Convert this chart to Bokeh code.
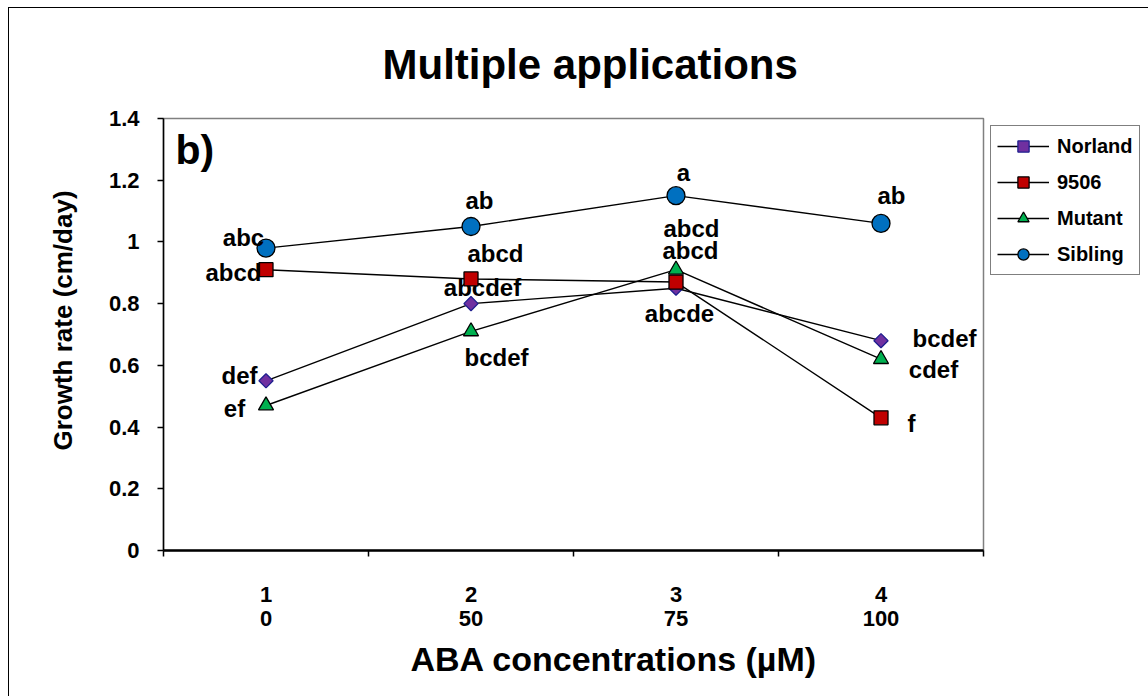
import numpy as np
from bokeh.plotting import figure
from bokeh.models import (Range1d, FixedTicker, LinearAxis, Legend, LegendItem,
                          Label, Title, CustomJSTickFormatter, ColumnDataSource)
from bokeh.core.properties import value
from bokeh.embed import file_html
from bokeh.resources import INLINE

# ---------------- data ----------------
categories = [1, 2, 3, 4]
cat_labels = ["1", "2", "3", "4"]
aba_labels = ["0", "50", "75", "100"]
series_names = ["Norland", "9506", "Mutant", "Sibling"]

norland = [0.55, 0.80, 0.85, 0.68]
s9506 = [0.91, 0.88, 0.87, 0.43]
mutant = [0.47, 0.71, 0.91, 0.62]
sibling = [0.98, 1.05, 1.15, 1.06]

norland_letters = ["def", "abcdef", "abcde", "bcdef"]
s9506_letters = ["abcd", "abcd", "abcd", "f"]
mutant_letters = ["ef", "bcdef", "abcd", "cdef"]
sibling_letters = ["abc", "ab", "a", "ab"]

y_ticks = [0, 0.2, 0.4, 0.6, 0.8, 1.0, 1.2, 1.4]

# ---------------- label placement (screen px) ----------------
norland_dx = [-26.5, 11.5, 3.5, 63.5]
norland_dy = [-5, -16, 25, -2]
s9506_dx = [-32.5, 24.5, 15.5, 30.5]
s9506_dy = [2.5, -25.7, -54, 5.6]
mutant_dx = [-31.5, 25.5, 14.5, 52.5]
mutant_dy = [3, 26, -19.4, 10]
sibling_dx = [-22.5, 8.5, 7.5, 10.5]
sibling_dy = [-11, -26, -23.5, -28]

FONT = "Liberation Sans"

p = figure(frame_width=820, frame_height=432,
           x_range=Range1d(0.5, 4.5), y_range=Range1d(0, 1.4),
           x_axis_type=None, y_axis_type=None,
           output_backend="svg", toolbar_location=None,
           min_border_left=154, min_border_top=110,
           min_border_right=0, min_border_bottom=146,
           background_fill_color="white", border_fill_color="white")
p.xgrid.visible = False
p.ygrid.visible = False
p.outline_line_color = "#808080"
p.outline_line_width = 1.5
p.styles = {"margin-left": "8px", "margin-top": "7px",
            "border-left": "1px solid black", "border-top": "1px solid black"}

# title
p.title = Title(text="Multiple applications", align="left", vertical_align="middle",
                text_font=FONT, text_font_style="bold",
                text_font_size="42px", text_color="black",
                standoff=60, offset=219)

# ---------------- axes ----------------
yaxis = LinearAxis(ticker=FixedTicker(ticks=y_ticks, minor_ticks=[]),
                   formatter=CustomJSTickFormatter(code="return (Math.round(tick*10)/10).toString();"),
                   major_tick_out=6, major_tick_in=0,
                   major_label_standoff=18,
                   major_label_text_font=FONT, major_label_text_font_style="bold",
                   major_label_text_font_size="22px", major_label_text_color="black",
                   axis_line_color="black", axis_line_width=1.5,
                   major_tick_line_color="black", major_tick_line_width=1.5)
p.add_layout(yaxis, "left")

p.add_layout(Title(text="Growth rate (cm/day)", align="left", offset=100,
                   standoff=56, text_font=FONT, text_font_style="bold",
                   text_font_size="26px", text_color="black"), "left")

xaxis1 = LinearAxis(ticker=FixedTicker(ticks=categories,
                                       minor_ticks=[0.5, 1.5, 2.5, 3.5, 4.5]),
                    major_label_overrides={c: l for c, l in zip(categories, cat_labels)},
                    major_tick_out=0, major_tick_in=0,
                    minor_tick_out=6, minor_tick_in=0,
                    minor_tick_line_color="black", minor_tick_line_width=1.5,
                    axis_line_color="black", axis_line_width=2.5,
                    major_label_standoff=30,
                    major_label_text_font=FONT, major_label_text_font_style="bold",
                    major_label_text_font_size="22px", major_label_text_color="black")
p.add_layout(xaxis1, "below")

xaxis2 = LinearAxis(ticker=FixedTicker(ticks=categories, minor_ticks=[]),
                    major_label_overrides={c: l for c, l in zip(categories, aba_labels)},
                    major_tick_out=0, major_tick_in=0,
                    major_tick_line_color=None, axis_line_color=None,
                    major_label_standoff=6,
                    major_label_text_font=FONT, major_label_text_font_style="bold",
                    major_label_text_font_size="22px", major_label_text_color="black")
p.add_layout(xaxis2, "below")

p.add_layout(Title(text="ABA concentrations (\u00b5M)", align="left", offset=247,
                   standoff=18, text_font=FONT, text_font_style="bold",
                   text_font_size="34px", text_color="black"), "below")

# ---------------- series ----------------
series = [
    ("Norland", norland, norland_letters, norland_dx, norland_dy,
     "square", 10, np.pi / 4, "#7030A0", "#1F1F8F"),
    ("9506", s9506, s9506_letters, s9506_dx, s9506_dy,
     "square", 14, 0, "#C00000", "black"),
    ("Mutant", mutant, mutant_letters, mutant_dx, mutant_dy,
     "triangle", 15, 0, "#00B050", "black"),
    ("Sibling", sibling, sibling_letters, sibling_dx, sibling_dy,
     "circle", 18, 0, "#0070C0", "black"),
]

items = []
for name, vals, letters, dx, dy, marker, size, angle, fill, edge in series:
    src = ColumnDataSource(dict(x=categories, y=vals, lab=letters, dx=dx, dy=dy))
    lr = p.line("x", "y", source=src, line_color="black", line_width=1.4)
    sr = p.scatter("x", "y", source=src, marker=marker, size=size, angle=angle,
                   fill_color=fill, line_color=edge, line_width=1.3)
    p.text("x", "y", text="lab", source=src, x_offset="dx", y_offset="dy",
           text_align="center", text_baseline="middle",
           text_font=value(FONT), text_font_style="bold",
           text_font_size="24px", text_color="black")
    items.append(LegendItem(label=name, renderers=[lr, sr]))

legend = Legend(items=items, location="top_left", margin=7,
                padding=6, spacing=8, glyph_width=52, glyph_height=28,
                label_standoff=8, label_width=74,
                label_text_font=FONT, label_text_font_style="bold",
                label_text_font_size="20px", label_text_color="black",
                border_line_color="black", border_line_width=1.2,
                background_fill_color="white")
p.add_layout(legend, "right")

p.add_layout(Label(x=0.5, y=1.4, x_offset=12, y_offset=-8, text="b)",
                   text_align="left", text_baseline="top",
                   text_font=FONT, text_font_style="bold",
                   text_font_size="41px", text_color="black"))

open("out.html", "w").write(file_html(p, INLINE))
